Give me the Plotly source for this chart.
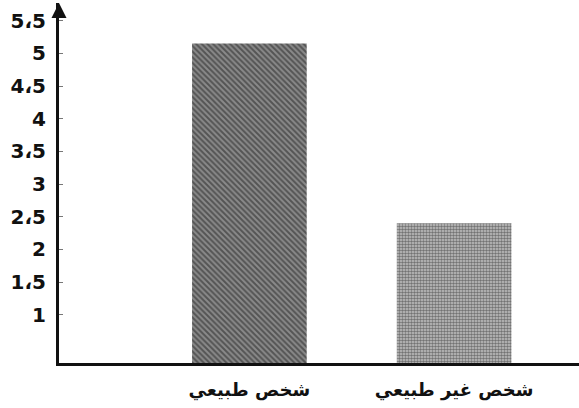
import plotly.graph_objects as go

categories = ["شخص طبيعي", "شخص غير طبيعي"]
values = [5.15, 2.4]
tick_vals = [1, 1.5, 2, 2.5, 3, 3.5, 4, 4.5, 5, 5.5]
tick_text = ["1", "1،5", "2", "2،5", "3", "3،5", "4", "4،5", "5", "5،5"]

patterns = [
    dict(shape="\\", bgcolor="#8a8a8a", fgcolor="#1e1e1e", size=4, solidity=0.5),
    dict(shape=".", bgcolor="#c4c4c4", fgcolor="#222222", size=3, solidity=0.55),
]

fig = go.Figure()
for cat, val, pat in zip(categories, values, patterns):
    fig.add_trace(go.Bar(
        x=[cat], y=[val], width=0.56,
        marker=dict(color=pat["bgcolor"], pattern=pat, line=dict(width=0)),
        showlegend=False, hoverinfo="skip",
    ))

fig.update_layout(
    width=579, height=408,
    margin=dict(l=59, r=0, t=3, b=45),
    paper_bgcolor="white", plot_bgcolor="white",
    barmode="overlay",
    xaxis=dict(
        type="category", range=[-0.93, 1.61], automargin=False,
        showline=True, linecolor="#111", linewidth=3,
        showgrid=False, ticks="", zeroline=False,
        tickfont=dict(family="DejaVu Sans", size=18, color="#111", weight="bold"),
        ticklabelstandoff=8,
    ),
    yaxis=dict(
        range=[0.264, 5.77], automargin=False,
        tickvals=tick_vals, ticktext=tick_text,
        showline=True, linecolor="#111", linewidth=3,
        showgrid=False, zeroline=False,
        ticks="inside", ticklen=4, tickcolor="#777", tickwidth=1,
        tickfont=dict(family="DejaVu Sans", size=20, color="#111", weight="bold"),
        ticklabelstandoff=6,
    ),
    annotations=[dict(
        xref="paper", yref="paper", x=0, y=1.0,
        ax=0, ay=14, showarrow=True, arrowhead=2, arrowsize=1.2,
        arrowwidth=2.5, arrowcolor="#111", text="",
    )],
)

fig.write_html(
    "out.html",
    config={"displayModeBar": False},
    post_script="document.body.style.margin='0';document.body.style.overflow='hidden';",
)
